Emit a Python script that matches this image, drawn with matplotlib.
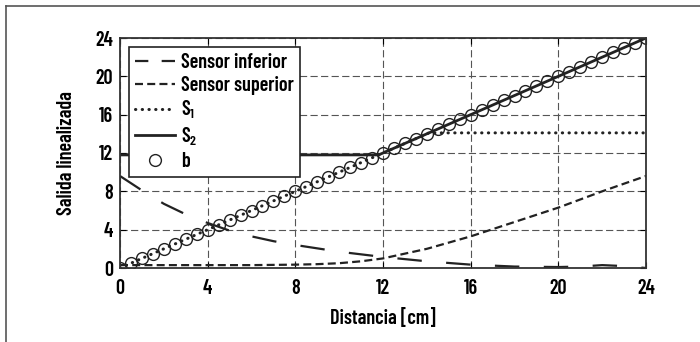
import matplotlib
matplotlib.use("Agg")
import matplotlib.pyplot as plt
from matplotlib.lines import Line2D

plt.rcParams['font.family'] = ['Barlow Condensed', 'DejaVu Sans']
plt.rcParams['font.weight'] = 'semibold'
plt.rcParams['axes.labelweight'] = 'semibold'

# datos
inf_x = [0, 1, 2, 3, 4, 5, 6, 7, 8, 10, 12, 14, 16, 18, 20, 21, 22, 23, 24]
inf_y = [9.6, 8.1, 6.7, 5.6, 4.7, 3.9, 3.3, 2.8, 2.4, 1.7, 1.15, 0.7, 0.35, 0.15, 0.1, 0.15, 0.3, 0.2, 0.0]

sup_x = [0, 2, 4, 6, 8, 9, 10, 11, 12, 13, 14, 16, 18, 20, 22, 24]
sup_y = [0.3, 0.3, 0.3, 0.3, 0.35, 0.4, 0.5, 0.7, 1.0, 1.5, 2.0, 3.3, 4.8, 6.3, 8.0, 9.6]

s1_x = [0, 14.1, 24]
s1_y = [0, 14.1, 14.1]

s2_x = [0, 11.8, 24]
s2_y = [11.8, 11.8, 24]

b_x = [0, 0.5, 1, 1.5, 2, 2.5, 3, 3.5, 4, 4.5, 5, 5.5, 6, 6.5, 7, 7.5, 8, 8.5,
       9, 9.5, 10, 10.5, 11, 11.5, 12, 12.5, 13, 13.5, 14, 14.5, 15, 15.5, 16,
       16.5, 17, 17.5, 18, 18.5, 19, 19.5, 20, 20.5, 21, 21.5, 22, 22.5, 23,
       23.5, 24]
b_y = [0, 0.5, 1, 1.5, 2, 2.5, 3, 3.5, 4, 4.5, 5, 5.5, 6, 6.5, 7, 7.5, 8, 8.5,
       9, 9.5, 10, 10.5, 11, 11.5, 12, 12.5, 13, 13.5, 14, 14.5, 15, 15.5, 16,
       16.5, 17, 17.5, 18, 18.5, 19, 19.5, 20, 20.5, 21, 21.5, 22, 22.5, 23,
       23.5, 24]

ticks = [0, 4, 8, 12, 16, 20, 24]

fig = plt.figure(figsize=(7, 3.42), dpi=100)
ax = fig.add_axes([120 / 700, 1 - 268 / 342, 526 / 700, 230 / 342])

# marco exterior (solo izquierda y arriba visibles)
fig.add_artist(Line2D([6 / 700, 6 / 700], [0, 1 - 6 / 342], color='#555555', lw=1.2))
fig.add_artist(Line2D([6 / 700, 1], [1 - 6 / 342, 1 - 6 / 342], color='#555555', lw=1.2))

col = '#222222'
ax.plot(inf_x, inf_y, color=col, lw=1.6, dashes=(11, 11), label='Sensor inferior')
ax.plot(sup_x, sup_y, color=col, lw=1.6, dashes=(3.6, 1.9), label='Sensor superior')
ax.plot(s1_x, s1_y, color=col, lw=2.2, linestyle=(0, (0.1, 2.1)),
        dash_capstyle='round', label='S$_\\mathregular{1}$')
ax.plot(s2_x, s2_y, color=col, lw=2.0, label='S$_\\mathregular{2}$')
ax.plot(b_x, b_y, linestyle='none', marker='o', markersize=8.5,
        markerfacecolor='none', markeredgecolor=col, markeredgewidth=1.0, label='b')

ax.set_xlim(0, 24)
ax.set_ylim(0, 24)
ax.set_xticks(ticks)
ax.set_yticks(ticks)
ax.tick_params(direction='in', top=True, right=True, labelsize=14.5, length=4)
ax.tick_params(axis='x', pad=8)
ax.tick_params(axis='y', pad=5)
ax.grid(True, color='#555555', linestyle=(0, (6.5, 3)), lw=0.8)
for s in ax.spines.values():
    s.set_linewidth(1.3)
    s.set_color('#333333')

ax.set_xlabel('Distancia [cm]', fontsize=14.5, labelpad=7)
ax.set_ylabel('Salida linealizada', fontsize=14.5, labelpad=14)

leg = ax.legend(loc='upper left', fontsize=14.5, fancybox=False, framealpha=1,
                edgecolor='#222222', borderaxespad=0.45, handlelength=2.0,
                handletextpad=0.3, labelspacing=0.2, borderpad=0.3)
leg.get_frame().set_linewidth(1.2)
leg.get_lines()[0].set_dashes((6, 6))

fig.savefig('out.png', dpi=100)
